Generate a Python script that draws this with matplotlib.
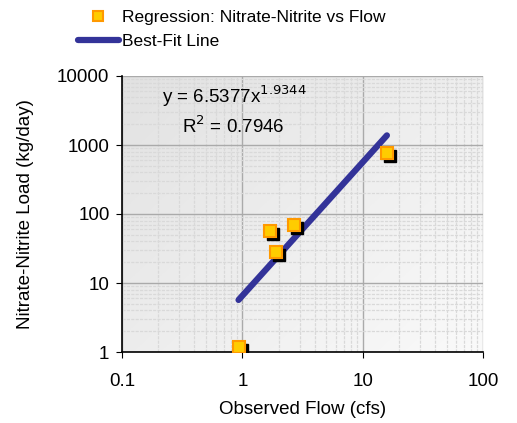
import numpy as np
import matplotlib.pyplot as plt
from matplotlib.lines import Line2D
from matplotlib.transforms import offset_copy

plt.rcParams['font.family'] = ['Liberation Sans', 'DejaVu Sans']

flow = [0.93, 1.7, 1.9, 2.7, 15.9]
load = [1.2, 56, 28, 69, 775]

# fitted power law
coef = 6.5377
expo = 1.9344
r2 = 0.7946

fig = plt.figure(figsize=(5.17, 4.23), dpi=100)
ax = fig.add_axes([122/517, 1-352/423, (483-122)/517, (352-76)/423])

# soft gray gradient, darker at top-left
gx, gy = np.meshgrid(np.linspace(0, 1, 200), np.linspace(0, 1, 200))
shade = 0.885 + 0.095*(0.55*gx + 0.45*gy)
rgb = np.dstack([shade, shade, shade])
ax.imshow(rgb, extent=[0, 1, 0, 1], transform=ax.transAxes,
          aspect='auto', zorder=0, origin='upper')

ax.set_xscale('log')
ax.set_yscale('log')
ax.set_xlim(0.1, 100)
ax.set_ylim(1, 10000)

ax.grid(True, which='minor', color='#d9d9d9', lw=0.9, ls=(0, (2.5, 1)), zorder=1)
ax.grid(True, which='major', color='#aaaaaa', lw=1.0, zorder=1.5)
ax.set_axisbelow(True)

xs = np.array([min(flow), max(flow)])
ax.plot(xs, coef*xs**expo, color='#333399', lw=4.5, solid_capstyle='round', zorder=3)

# black drop shadow then the orange marker
shadow = offset_copy(ax.transData, fig=fig, x=3, y=-3, units='dots')
ax.plot(flow, load, ls='', marker='s', ms=8.5, color='black', transform=shadow, zorder=4)
ax.plot(flow, load, ls='', marker='s', ms=8.5, mfc='#ffcc00', mec='#ff9900', mew=1.5, zorder=5)

ax.text(0.11, 0.928, 'y = %.4fx$^{%.4f}$' % (coef, expo), transform=ax.transAxes,
        fontsize=13.5, ha='left', va='center')
ax.text(0.167, 0.818, 'R$^{2}$ = %.4f' % r2, transform=ax.transAxes,
        fontsize=13.5, ha='left', va='center')

for s in ['top', 'right']:
    ax.spines[s].set_visible(False)
for s in ['left', 'bottom']:
    ax.spines[s].set_color('black')
    ax.spines[s].set_linewidth(1.2)

ax.set_xticks([0.1, 1, 10, 100])
ax.set_xticklabels(['0.1', '1', '10', '100'])
ax.set_yticks([1, 10, 100, 1000, 10000])
ax.set_yticklabels(['1', '10', '100', '1000', '10000'])
ax.tick_params(which='minor', length=0)
ax.tick_params(which='major', length=4, direction='out', labelsize=13.5)
ax.tick_params(axis='x', pad=11)
ax.tick_params(axis='y', pad=5)
ax.set_xlabel('Observed Flow (cfs)', fontsize=13.5, labelpad=8)
ax.set_ylabel('Nitrate-Nitrite Load (kg/day)', fontsize=13.5, labelpad=17)

handles = [Line2D([], [], ls='', marker='s', ms=7, mfc='#ffcc00', mec='#ff9900', mew=1.5),
           Line2D([], [], color='#333399', lw=4.5, solid_capstyle='round')]
fig.legend(handles, ['Regression: Nitrate-Nitrite vs Flow', 'Best-Fit Line'],
           loc='upper left', bbox_to_anchor=(68/517, 1.0), frameon=False,
           fontsize=12.5, handlelength=2.4, handletextpad=0.15, labelspacing=0.55,
           borderpad=0.05)

fig.savefig('out.png', dpi=100)
